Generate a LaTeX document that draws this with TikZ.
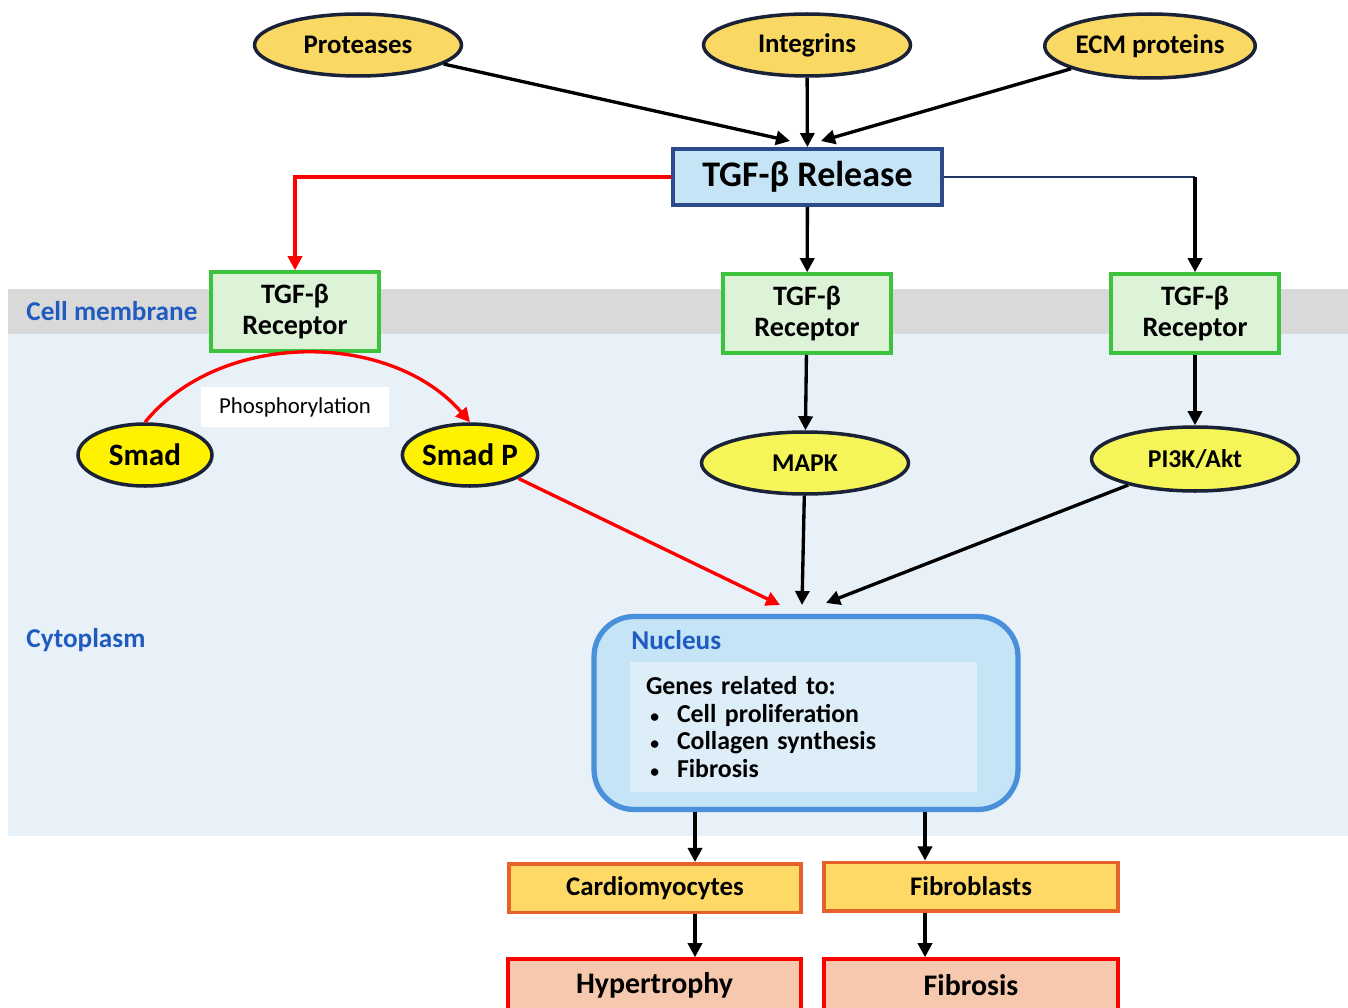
\documentclass[tikz,border=0pt]{standalone}
\usepackage{fontspec}
\setmainfont{Carlito}
\usetikzlibrary{shapes.geometric,arrows.meta}

\definecolor{ovalgold}{RGB}{250,216,100}
\definecolor{ovalline}{RGB}{26,34,56}
\definecolor{relfill}{RGB}{197,228,245}
\definecolor{relline}{RGB}{44,74,140}
\definecolor{recfill}{RGB}{221,243,216}
\definecolor{recline}{RGB}{60,194,60}
\definecolor{kinfill}{RGB}{245,245,90}
\definecolor{membgray}{RGB}{217,217,217}
\definecolor{cytoblue}{RGB}{232,240,248}
\definecolor{labblue}{RGB}{31,91,193}
\definecolor{nucline}{RGB}{74,143,218}
\definecolor{genefill}{RGB}{221,238,248}
\definecolor{cellfill}{RGB}{255,217,102}
\definecolor{cellline}{RGB}{232,96,42}
\definecolor{outfill}{RGB}{246,200,173}
\definecolor{linkblue}{RGB}{31,56,100}

\begin{document}
\begin{tikzpicture}[x=0.02cm,y=-0.02cm,
    oval/.style={ellipse,draw=ovalline,line width=2pt,fill=ovalgold,inner sep=0pt,
        minimum width=4.14cm,minimum height=1.24cm,font=\bfseries\fontsize{15.3}{18}\selectfont},
    smadoval/.style={oval,fill=yellow,minimum width=2.68cm,font=\bfseries\fontsize{17.7}{20}\selectfont},
    kinoval/.style={oval,fill=kinfill,font=\bfseries\fontsize{14.6}{17}\selectfont},
    recbox/.style={rectangle,draw=recline,line width=2pt,fill=recfill,align=center,
        minimum width=3.36cm,minimum height=1.58cm,font=\bfseries\fontsize{16}{17.5}\selectfont},
    cellbox/.style={rectangle,draw=cellline,line width=2pt,fill=cellfill,
        minimum height=0.97cm,font=\bfseries\fontsize{15.3}{18}\selectfont},
    outbox/.style={rectangle,draw=red,line width=2pt,fill=outfill,
        minimum height=1.04cm,font=\bfseries\fontsize{17}{20}\selectfont},
    arr/.style={-{Triangle[length=8pt,width=8pt]},line width=1.9pt},
    redarr/.style={arr,draw=red},
    zonelabel/.style={anchor=west,inner sep=0pt,text=labblue,font=\bfseries\fontsize{15.5}{18}\selectfont}]

    \useasboundingbox (0,0) rectangle (1348,1007);

    % membrane and cytoplasm
    \fill[membgray] (8,289) rectangle (1348,334);
    \fill[cytoblue] (8,334) rectangle (1348,836);
    \node[zonelabel] (memlab) at (26,311) {Cell membrane};
    \node[zonelabel] (cytlab) at (26,640) {Cytoplasm};

    \node[oval] (prot) at (358,45) {Proteases};
    \node[oval] (integ) at (807,45) {Integrins};
    \node[oval,minimum height=1.28cm] (ecm) at (1150,46) {ECM proteins};

    \node[rectangle,draw=relline,line width=2.2pt,fill=relfill,minimum width=5.38cm,
        minimum height=1.12cm,font=\bfseries\fontsize{20.5}{23}\selectfont] (rel) at (807.5,177) {TGF-β Release};

    \node[recbox] (rec1) at (295,311.5) {TGF-β\\Receptor};
    \node[recbox] (rec2) at (807,313.5) {TGF-β\\Receptor};
    \node[recbox] (rec3) at (1195,313.5) {TGF-β\\Receptor};

    \node[fill=white,minimum width=3.78cm,minimum height=0.8cm,
        font=\fontsize{13}{15}\selectfont] (phos) at (295,407) {Phosphorylation};
    \node[smadoval] (smad) at (145,455) {Smad};
    \node[smadoval] (smadp) at (470,455) {Smad P};

    \node[kinoval] (mapk) at (805,463) {MAPK};
    \node[kinoval,minimum height=1.28cm] (pi3k) at (1195,459) {PI3K/Akt};

    \node[rectangle,draw=nucline,line width=3pt,fill=relfill,rounded corners=0.8cm,
        minimum width=8.48cm,minimum height=3.86cm] (nuc) at (806,713) {};
    \node[zonelabel] (nuclab) at (631,640) {Nucleus};
    \node[fill=genefill,minimum width=6.94cm,minimum height=2.6cm,text width=6.3cm,
        align=left,font=\bfseries\fontsize{14.7}{15.9}\selectfont] (genes) at (803.5,727)
        {Genes related to:\\
        \makebox[0.62cm][l]{\,\fontsize{10}{10}\selectfont•}Cell proliferation\\
        \makebox[0.62cm][l]{\,\fontsize{10}{10}\selectfont•}Collagen synthesis\\
        \makebox[0.62cm][l]{\,\fontsize{10}{10}\selectfont•}Fibrosis};

    \node[cellbox,minimum width=5.84cm] (card) at (655,888) {Cardiomyocytes};
    \node[cellbox,minimum width=5.88cm] (fibro) at (971,886.5) {Fibroblasts};
    \node[outbox,minimum width=5.86cm] (hyp) at (654.5,985) {Hypertrophy};
    \node[outbox,minimum width=5.88cm] (fibs) at (971,985) {Fibrosis};

    % free ends and lanes
    \coordinate (inL) at (790,141);
    \coordinate (inR) at (821,141);
    \coordinate (inA) at (780,605);
    \coordinate (inB) at (802,605);
    \coordinate (inC) at (826,603);
    \coordinate (lane1) at (695,0);
    \coordinate (lane2) at (925,0);
    \coordinate (rturn) at (rel.east -| rec3.north);

    \draw[arr] (prot) -- (inL);
    \draw[arr] (integ) -- (rel);
    \draw[arr] (ecm) -- (inR);

    \draw[redarr] (rel.west) -| (rec1.north);
    \draw[arr] (rel) -- (rec2);
    \draw[linkblue,line width=1.1pt] (rel.east) -- (rturn);
    \draw[arr] (rturn) -- (rec3.north);

    \draw[redarr] (smad.north) .. controls (220,330) and (390,330) .. (smadp.north);
    \draw[arr] (rec2) -- (mapk);
    \draw[arr] (rec3) -- (pi3k);

    \draw[redarr] (smadp) -- (inA);
    \draw[arr] (mapk) -- (inB);
    \draw[arr] (pi3k) -- (inC);

    \draw[arr] (lane1 |- nuc.south) -- (lane1 |- card.north);
    \draw[arr] (lane2 |- nuc.south) -- (lane2 |- fibro.north);
    \draw[arr] (lane1 |- card.south) -- (lane1 |- hyp.north);
    \draw[arr] (lane2 |- fibro.south) -- (lane2 |- fibs.north);
\end{tikzpicture}
\end{document}
